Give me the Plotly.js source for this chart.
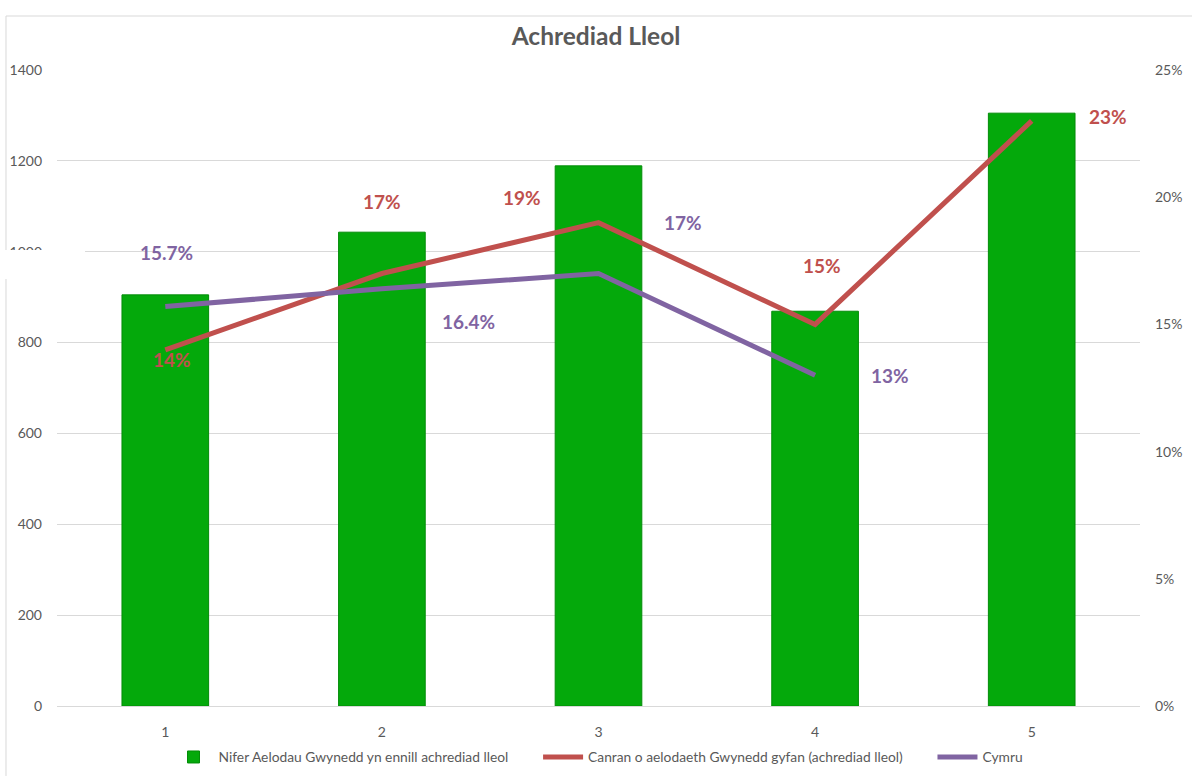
<!DOCTYPE html>
<html>
<head>
<meta charset="utf-8">
<script src="https://cdn.plot.ly/plotly-3.0.1.min.js"></script>
<style>html,body{margin:0;padding:0;background:#fff;}#chart{width:1192px;height:776px;}</style>
</head>
<body>
<div id="chart"></div>
<script>
const categories = [1, 2, 3, 4, 5];
const barValues = [905, 1043, 1189, 869, 1305];
const gwyneddPct = [14, 17, 19, 15, 23];
const cymruPct = [15.7, 16.4, 17, 13, null];
const gwyneddLabels = ['14%', '17%', '19%', '15%', '23%'];
const cymruLabels = ['15.7%', '16.4%', '17%', '13%', ''];
const leftTicks = [0, 200, 400, 600, 800, 1000, 1200, 1400];
const rightTicks = [0, 5, 10, 15, 20, 25];
const rightTickText = ['0%', '5%', '10%', '15%', '20%', '25%'];
const seriesNames = ['Nifer Aelodau Gwynedd yn ennill achrediad lleol',
                     'Canran o aelodaeth Gwynedd gyfan (achrediad lleol)', 'Cymru'];

const FONT = 'Lato, Carlito, "Open Sans", sans-serif';
const RED = '#c0504d', PURPLE = '#8064a2', GREY = '#595959';
const PAD = '\u00a0'.repeat(7);

const traces = [
  {type: 'bar', x: categories, y: barValues, name: seriesNames[0] + PAD,
   width: 0.4, marker: {color: '#04a90b', line: {color: '#038c08', width: 1}}, hoverinfo: 'y'},
  {type: 'scatter', mode: 'lines', x: categories, y: gwyneddPct, yaxis: 'y2',
   name: seriesNames[1] + PAD, line: {color: RED, width: 5}},
  {type: 'scatter', mode: 'lines', x: categories, y: cymruPct, yaxis: 'y2',
   name: seriesNames[2], line: {color: PURPLE, width: 5}, connectgaps: false}
];

// label offsets (pixels) relative to the data point
const redOff = [[7, -10], [0, 72], [-77, 25], [7, 59], [76, 4]];
const purOff = [[1, 54], [87, -33], [84, 51], [75, 0]];
const annotations = [];
categories.forEach((c, i) => {
  annotations.push({x: c, y: gwyneddPct[i], xref: 'x', yref: 'y2', text: gwyneddLabels[i], showarrow: false,
    xshift: redOff[i][0], yshift: redOff[i][1], font: {family: FONT, size: 19, color: RED, weight: 'bold'}});
  if (cymruPct[i] !== null) {
    annotations.push({x: c, y: cymruPct[i], xref: 'x', yref: 'y2', text: cymruLabels[i], showarrow: false,
      xshift: purOff[i][0], yshift: purOff[i][1], font: {family: FONT, size: 19, color: PURPLE, weight: 'bold'}});
  }
});

const layout = {
  width: 1192, height: 776,
  margin: {l: 57, r: 52, t: 70, b: 70, autoexpand: false},
  paper_bgcolor: '#ffffff', plot_bgcolor: '#ffffff',
  font: {family: FONT, size: 14, color: GREY},
  title: {text: '<b>Achrediad Lleol</b>', x: 0.5, xanchor: 'center', y: 1 - 36 / 776, yanchor: 'middle',
          font: {family: FONT, size: 24.5, color: GREY}},
  showlegend: true,
  legend: {orientation: 'h', x: 0.5, xanchor: 'center', yref: 'container', y: 1 - 757 / 776, yanchor: 'middle',
           font: {family: FONT, size: 13.8, color: GREY}, traceorder: 'normal', itemwidth: 40},
  xaxis: {range: [0.5, 5.5], tickvals: categories, ticktext: categories.map(String), showgrid: false,
          zeroline: false, showline: false, ticks: '', ticklabelstandoff: 16,
          tickfont: {family: FONT, size: 14, color: GREY}},
  yaxis: {range: [0, 1400], tickvals: leftTicks, showgrid: true, gridcolor: '#d9d9d9', gridwidth: 1,
          zeroline: true, zerolinecolor: '#d9d9d9', showline: false, ticks: '', ticklabelstandoff: 14,
          tickfont: {family: FONT, size: 14, color: GREY}},
  yaxis2: {range: [0, 25], tickmode: 'array', tickvals: rightTicks, ticktext: rightTickText, overlaying: 'y', side: 'right',
           showgrid: false, zeroline: false, showline: false, ticks: '', ticklabelstandoff: 14,
           tickfont: {family: FONT, size: 14, color: GREY}},
  annotations: annotations,
  shapes: [
    {type: 'line', xref: 'paper', yref: 'paper', x0: -0.0471, x1: 1.05, y0: 1.0849, y1: 1.0849,
     line: {color: '#d9d9d9', width: 1}, layer: 'below'},
    {type: 'line', xref: 'paper', yref: 'paper', x0: -0.0471, x1: -0.0471, y0: 1.0849, y1: -0.11,
     line: {color: '#d9d9d9', width: 1}, layer: 'below'},
    {type: 'rect', xref: 'paper', yref: 'paper', x0: -0.06, x1: 0.0259, y0: (706 - 250) / 636, y1: (706 - 279) / 636,
     fillcolor: '#ffffff', line: {width: 0}, layer: 'above'}
  ]
};

Plotly.newPlot('chart', traces, layout, {displayModeBar: false, staticPlot: true});
</script>
</body>
</html>
